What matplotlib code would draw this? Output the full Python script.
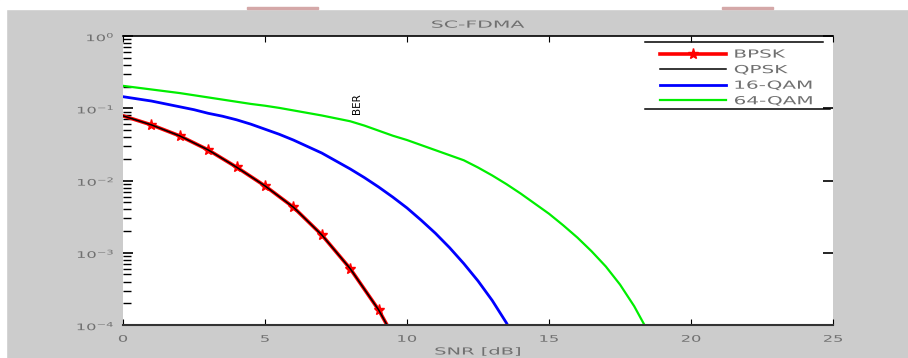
import matplotlib
matplotlib.use("Agg")
from matplotlib import pyplot as plt
from matplotlib.patches import Rectangle
from matplotlib.transforms import Affine2D
import matplotlib.patheffects as pe
import matplotlib.ticker as mticker
import numpy as np

# SNR axis values [dB]
snr_bpsk = [0, 1, 2, 3, 4, 5, 6, 7, 8, 9, 10]
snr_qam = [0, 0.5, 1, 1.5, 2, 2.5, 3, 3.5, 4, 4.5, 5, 5.5, 6, 6.5, 7, 7.5, 8, 8.5, 9, 9.5,
           10, 10.5, 11, 11.5, 12, 12.5, 13, 13.5, 14]
snr_64 = [0, 0.5, 1, 1.5, 2, 2.5, 3, 3.5, 4, 4.5, 5, 5.5, 6, 6.5, 7, 7.5, 8, 8.5, 9, 9.5,
          10, 10.5, 11, 11.5, 12, 12.5, 13, 13.5, 14, 14.5, 15, 15.5, 16, 16.5, 17, 17.5,
          18, 18.5, 19]

# BER (log10 values)
log_bpsk = [-1.105, -1.23, -1.383, -1.577, -1.816, -2.075, -2.37, -2.753, -3.22, -3.79, -4.5]
log_16qam = [-0.84, -0.87, -0.90, -0.94, -0.98, -1.02, -1.07, -1.11, -1.16, -1.22,
             -1.29, -1.36, -1.44, -1.53, -1.62, -1.73, -1.84, -1.96, -2.09, -2.23,
             -2.38, -2.55, -2.73, -2.93, -3.15, -3.39, -3.66, -3.97, -4.32]
log_64qam = [-0.69, -0.715, -0.74, -0.765, -0.79, -0.82, -0.85, -0.88, -0.91, -0.94,
             -0.965, -0.995, -1.03, -1.065, -1.10, -1.14, -1.18, -1.24, -1.31, -1.38,
             -1.44, -1.51, -1.58, -1.65, -1.72, -1.82, -1.93, -2.05, -2.18, -2.32,
             -2.46, -2.62, -2.79, -2.98, -3.19, -3.44, -3.74, -4.1, -4.5]

ber_bpsk = 10 ** np.array(log_bpsk)
ber_16qam = 10 ** np.array(log_16qam)
ber_64qam = 10 ** np.array(log_64qam)

labels = ["BPSK", "QPSK", "16-QAM", "64-QAM"]
xticks = [0, 5, 10, 15, 20, 25]
yticks = [1e-4, 1e-3, 1e-2, 1e-1, 1e0]


class Stretch(pe.AbstractPathEffect):
    """Draw text stretched horizontally (the screenshot was resized unevenly)."""

    def __init__(self, sx=2.0, align="left"):
        super().__init__()
        self.sx = sx
        self.align = align

    def draw_path(self, renderer, gc, tpath, affine, rgbFace=None):
        if len(tpath.vertices) == 0:
            return
        ext = tpath.get_extents()
        if self.align == "center":
            x0 = (ext.x0 + ext.x1) / 2
        elif self.align == "right":
            x0 = ext.x1
        else:
            x0 = ext.x0
        t = Affine2D().translate(-x0, 0).scale(self.sx, 1).translate(x0, 0) + affine
        renderer.draw_path(gc, tpath, t, rgbFace)


W, H = 908, 358
fig = plt.figure(figsize=(W / 100, H / 100), dpi=100, facecolor="#cccccc")
ax = fig.add_axes([123 / W, (H - 325) / H, 710 / W, 289 / H])

# white strips at top/left edge of the screenshot
fig.patches.append(Rectangle((0, (H - 9) / H), 1, 9 / H, transform=fig.transFigure,
                             color="white", zorder=0))
fig.patches.append(Rectangle((0, 0), 6 / W, 1, transform=fig.transFigure,
                             color="white", zorder=0))
for x0, x1 in [(247, 318), (722, 773)]:
    fig.patches.append(Rectangle((x0 / W, (H - 9) / H), (x1 - x0) / W, 2 / H,
                                 transform=fig.transFigure, color="#d4a8a8", zorder=1))

grey = "#707070"

l1, = ax.plot(snr_bpsk, ber_bpsk, color="red", lw=2.6, marker="*", ms=8,
              markevery=list(range(1, 10)), label=labels[0])
l2, = ax.plot(snr_bpsk, ber_bpsk, color="black", lw=1.1, label=labels[1])
l3, = ax.plot(snr_qam, ber_16qam, color="blue", lw=2.0, label=labels[2])
l4, = ax.plot(snr_64, ber_64qam, color="#00ee00", lw=1.6, label=labels[3])

ax.set_yscale("log")
ax.set_xlim(0, 25)
ax.set_ylim(1e-4, 1)
ax.set_xticks(xticks)
ax.set_xticklabels([str(t) for t in xticks])
ax.set_yticks(yticks)
ax.yaxis.set_minor_locator(mticker.LogLocator(base=10, subs=np.arange(2, 10), numticks=10))
ax.yaxis.set_minor_formatter(mticker.NullFormatter())

ax.spines["left"].set_visible(False)
ax.spines["right"].set_visible(False)
ax.spines["top"].set_linewidth(1.2)
ax.spines["bottom"].set_linewidth(1.5)
ax.spines["bottom"].set_color("#333333")

ax.tick_params(axis="x", which="major", direction="in", length=4, top=True,
               labelsize=6.5, labelcolor=grey, pad=7)
ax.tick_params(axis="y", which="major", direction="in", length=7, right=True,
               labelsize=6.5, labelcolor=grey, width=1.2, pad=6)
ax.tick_params(axis="y", which="minor", direction="in", length=6, right=False, width=1.0)

for lbl in ax.get_xticklabels():
    lbl.set_path_effects([Stretch(1.8, "center")])
for lbl in ax.get_yticklabels():
    lbl.set_path_effects([Stretch(1.8, "right")])

ttl = ax.set_title("SC-FDMA", fontsize=7, color=grey, pad=6)
ttl.set_path_effects([Stretch(2.1, "center")])
xl = ax.set_xlabel("SNR [dB]", fontsize=7, color=grey, labelpad=2)
xl.set_path_effects([Stretch(2.0, "center")])
ax.text(0.33, 0.765, "BER", rotation=90, ha="center", va="center", fontsize=7.5,
        color="black", transform=ax.transAxes)

leg = ax.legend(handles=[l1, l2, l3, l4], loc="upper left", bbox_to_anchor=(0.756, 0.953),
                frameon=False, fontsize=8, handlelength=6.0, handletextpad=0.7,
                labelspacing=0.5, borderpad=0, borderaxespad=0)
for t in leg.get_texts():
    t.set_color(grey)
    t.set_path_effects([Stretch(1.8, "left")])

# only the top and bottom edges of the legend box are visible
ax.plot([0.735, 0.986], [0.979, 0.979], color="black", lw=1.1, transform=ax.transAxes,
        clip_on=False)
ax.plot([0.735, 0.996], [0.747, 0.747], color="black", lw=1.1, transform=ax.transAxes,
        clip_on=False)

fig.savefig("out.png", dpi=100, facecolor=fig.get_facecolor())
